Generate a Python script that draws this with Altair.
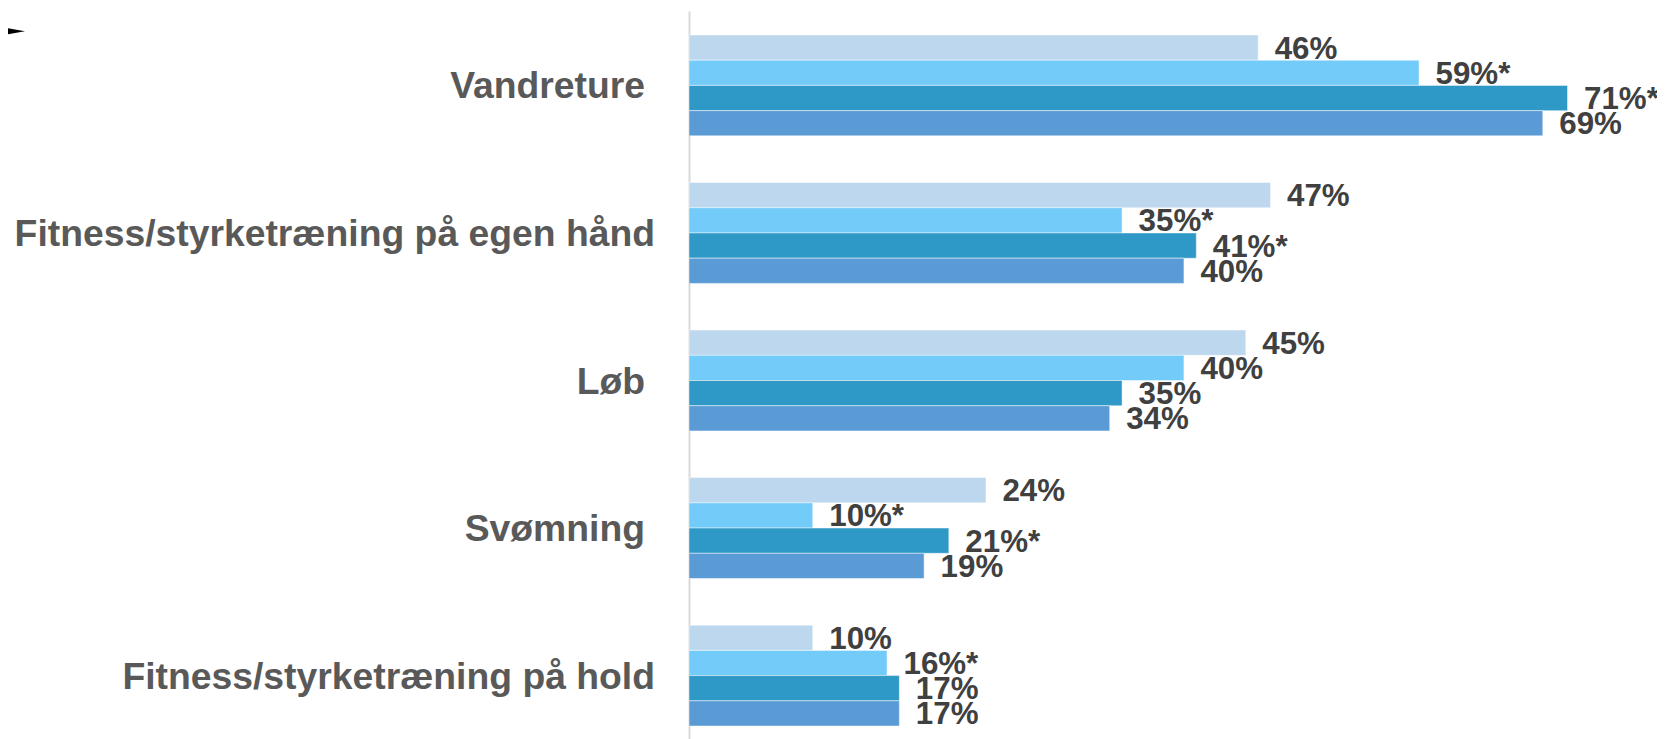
import altair as alt
import pandas as pd

categories = [
    "Vandreture",
    "Fitness/styrketræning på egen hånd",
    "Løb",
    "Svømning",
    "Fitness/styrketræning på hold",
]
series = ["Gruppe 1", "Gruppe 2", "Gruppe 3", "Gruppe 4"]
colors = ["#BDD7EE", "#73CBF9", "#2E98C6", "#5B9BD5"]

values = {
    "Gruppe 1": [46, 47, 45, 24, 10],
    "Gruppe 2": [59, 35, 40, 10, 16],
    "Gruppe 3": [71, 41, 35, 21, 17],
    "Gruppe 4": [69, 40, 34, 19, 17],
}
stars = {
    "Gruppe 1": [False, False, False, False, False],
    "Gruppe 2": [True, True, False, True, True],
    "Gruppe 3": [True, True, False, True, False],
    "Gruppe 4": [False, False, False, False, False],
}

# labels in the original carry a trailing space (shifts them left a little)
trailing_space = [True, False, True, True, False]

rows = []
for s in series:
    for i, c in enumerate(categories):
        v = values[s][i]
        rows.append({
            "kategori": c,
            "serie": s,
            "andel": v,
            "tekst": f"{v}%" + ("*" if stars[s][i] else ""),
        })
df = pd.DataFrame(rows)
cat_df = pd.DataFrame({"kategori": categories, "mellemrum": trailing_space})

y_scale = alt.Scale(paddingInner=0.3164, paddingOuter=0.1252, align=0.649)
y_axis = alt.Axis(
    ticks=False,
    tickSize=0,
    labels=False,
    domainColor="#D9D9D9",
    domainWidth=2,
    grid=False,
)


def y_enc():
    return alt.Y("kategori:N", sort=categories, title=None, scale=y_scale, axis=y_axis)


yoff_enc = alt.YOffset(
    "serie:N", sort=series, scale=alt.Scale(paddingInner=0, paddingOuter=0)
)
x_enc = alt.X("andel:Q", scale=alt.Scale(domain=[0, 75]), axis=None)

base = alt.Chart(df)

bars = base.mark_bar(
    stroke="#FFFFFF", strokeWidth=1, strokeOpacity=0.45
).encode(
    x=x_enc,
    y=y_enc(),
    yOffset=yoff_enc,
    color=alt.Color(
        "serie:N", sort=series, scale=alt.Scale(domain=series, range=colors), legend=None
    ),
)

labels = base.mark_text(
    align="left",
    baseline="middle",
    dx=16.5,
    dy=2,
    font="Liberation Sans",
    fontSize=31.3,
    fontWeight="bold",
    color="#404040",
).encode(
    x=x_enc,
    y=y_enc(),
    yOffset=yoff_enc,
    text="tekst:N",
)

cat_style = dict(
    align="right",
    baseline="middle",
    dy=2,
    font="Liberation Sans",
    fontSize=37.3,
    fontWeight="bold",
    color="#595959",
)

cat_labels_a = (
    alt.Chart(cat_df)
    .transform_filter("datum.mellemrum")
    .mark_text(**cat_style)
    .encode(y=y_enc(), x=alt.value(-44), text="kategori:N")
)
cat_labels_b = (
    alt.Chart(cat_df)
    .transform_filter("!datum.mellemrum")
    .mark_text(**cat_style)
    .encode(y=y_enc(), x=alt.value(-34), text="kategori:N")
)

arrow = alt.Chart(pd.DataFrame({"a": [0]})).mark_point(
    shape="M-1,-0.36L1,0L-1,0.36Z",
    size=625,
    filled=True,
    color="#000000",
    opacity=1,
).encode(x=alt.value(-676.5), y=alt.value(20.3))

chart = (
    alt.layer(bars, labels, cat_labels_a, cat_labels_b, arrow)
    .properties(
        width=928,
        height=728,
        padding={"left": 681, "top": 3, "right": 40, "bottom": 0},
        autosize=alt.AutoSizeParams(type="none"),
        background="#FFFFFF",
    )
    .configure_view(stroke=None)
)

chart.save("out.html", embed_options={"renderer": "svg", "actions": False})
